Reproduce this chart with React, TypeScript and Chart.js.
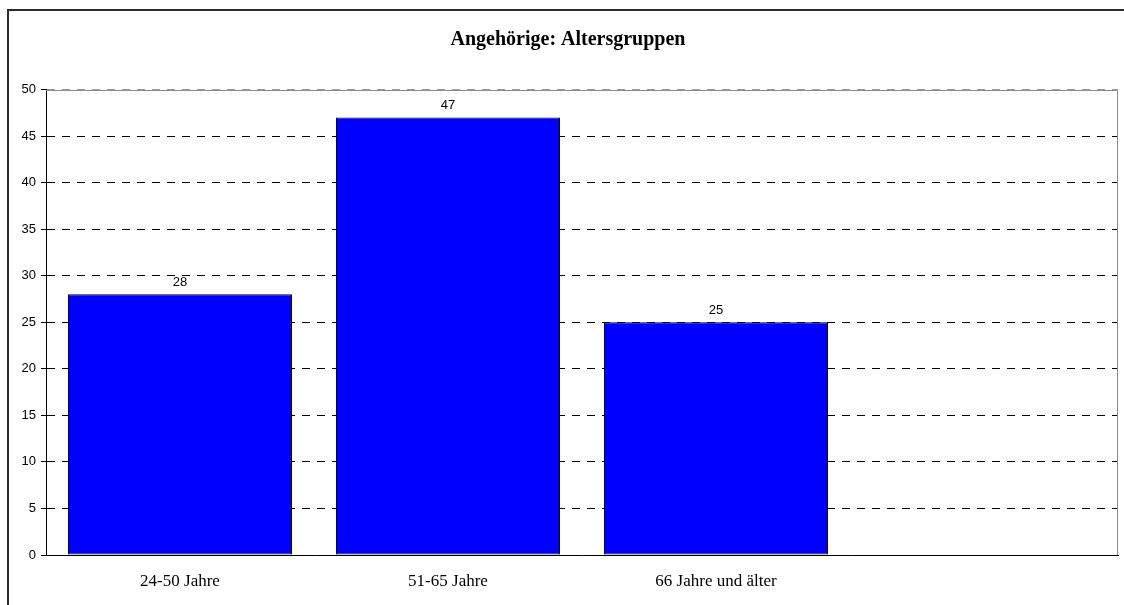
import { useEffect, useRef } from "react";
import { Chart, registerables } from "chart.js";

Chart.register(...registerables);

const chartTitle = "Angehörige: Altersgruppen";
const categories = ["24-50 Jahre", "51-65 Jahre", "66 Jahre und älter", ""];
const values: (number | null)[] = [28, 47, 25, null];
const yMin = 0;
const yMax = 50;
const yStep = 5;

const framePlugin = {
  id: "outerFrame",
  beforeDraw(chart: any) {
    const { ctx, width, height } = chart;
    ctx.save();
    ctx.fillStyle = "#ffffff";
    ctx.fillRect(0, 0, width, height);
    ctx.fillStyle = "#2b2b2b";
    ctx.fillRect(7, 9, 2, height);
    ctx.fillRect(7, 9, width, 2);
    ctx.restore();
  },
  afterDraw(chart: any) {
    const { ctx, width } = chart;
    ctx.save();
    ctx.font = "bold 20px 'Liberation Serif', 'Times New Roman', serif";
    ctx.fillStyle = "#000000";
    ctx.textAlign = "center";
    ctx.textBaseline = "middle";
    ctx.fillText(chartTitle, (width + 12) / 2, 39.5);
    ctx.restore();
  },
};

const plotBorderPlugin = {
  id: "plotBorder",
  beforeDatasetsDraw(chart: any) {
    const { ctx, chartArea } = chart;
    ctx.save();
    ctx.strokeStyle = "#8c8c8c";
    ctx.lineWidth = 1;
    ctx.beginPath();
    ctx.moveTo(chartArea.left, Math.round(chartArea.top) + 0.5);
    ctx.lineTo(Math.round(chartArea.right) - 0.5, Math.round(chartArea.top) + 0.5);
    ctx.lineTo(Math.round(chartArea.right) - 0.5, chartArea.bottom);
    ctx.stroke();
    ctx.restore();
  },
};

const valueLabelPlugin = {
  id: "valueLabels",
  afterDatasetsDraw(chart: any) {
    const { ctx } = chart;
    const meta = chart.getDatasetMeta(0);
    ctx.save();
    ctx.font = "13px 'Liberation Sans', Arial, sans-serif";
    ctx.fillStyle = "#000000";
    ctx.textAlign = "center";
    ctx.textBaseline = "alphabetic";
    meta.data.forEach((bar: any, i: number) => {
      const v = values[i];
      if (v === null || v === undefined) return;
      ctx.fillText(String(v), bar.x, bar.y - 8);
    });
    ctx.restore();
  },
};

export default function App() {
  const canvasRef = useRef<HTMLCanvasElement | null>(null);

  useEffect(() => {
    if (!canvasRef.current) return;
    const chart = new Chart(canvasRef.current, {
      type: "bar",
      data: {
        labels: categories,
        datasets: [
          {
            data: values,
            backgroundColor: "#0000ff",
            borderColor: "#000000",
            borderWidth: 1,
            borderSkipped: false,
            inflateAmount: 0,
            categoryPercentage: 1,
            barPercentage: 224 / 268,
          },
        ],
      },
      options: {
        animation: false,
        responsive: false,
        maintainAspectRatio: false,
        devicePixelRatio: 1,
        layout: { padding: { top: 89.5, right: 6, bottom: 0, left: 0 } },
        plugins: {
          legend: { display: false },
          tooltip: { enabled: false },
          title: { display: false },
        },
        scales: {
          x: {
            grid: { display: false, drawTicks: false },
            border: { display: true, color: "#000000", width: 1 },
            ticks: {
              color: "#000000",
              font: { family: "'Liberation Serif', 'Times New Roman', serif", size: 17 },
              padding: 16,
              maxRotation: 0,
              autoSkip: false,
            },
            afterFit(scale: any) {
              scale.height = 50;
            },
          },
          y: {
            min: yMin,
            max: yMax,
            grid: {
              color: (ctx: any) => (ctx.tick && ctx.tick.value === yMax ? "#9a9a9a" : "#000000"),
              lineWidth: 1,
              drawTicks: true,
              tickLength: 5,
              tickColor: "#000000",
              tickBorderDash: [],
            },
            border: { display: true, color: "#000000", width: 1, dash: [8, 7] },
            ticks: {
              stepSize: yStep,
              color: "#000000",
              font: { family: "'Liberation Sans', Arial, sans-serif", size: 13 },
              padding: 5,
            },
            afterFit(scale: any) {
              scale.width = 46;
            },
          },
        },
      },
      plugins: [framePlugin, plotBorderPlugin, valueLabelPlugin],
    });
    return () => chart.destroy();
  }, []);

  return (
    <div style={{ position: "fixed", left: 0, top: 0, width: 1124, height: 605, overflow: "hidden", background: "#fff" }}>
      <canvas ref={canvasRef} width={1124} height={605} style={{ display: "block", width: 1124, height: 605 }} />
    </div>
  );
}
